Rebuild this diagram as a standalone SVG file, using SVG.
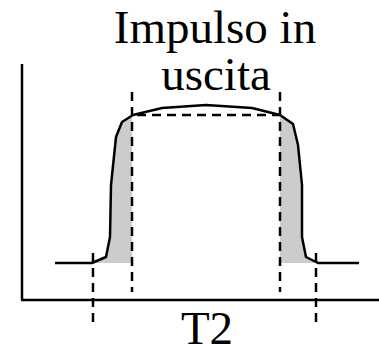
<svg xmlns="http://www.w3.org/2000/svg" width="379" height="345" viewBox="0 0 379 345">
<style>
.ax{stroke:#000;stroke-width:2.5;fill:none}
.curve{stroke:#000;stroke-width:2.5;fill:none;stroke-linejoin:round}
.dash{stroke:#000;stroke-width:2.5;fill:none;stroke-dasharray:9,6}
.fill{fill:#cccccc;stroke:none}
.lbl{font-family:"Liberation Serif","Times New Roman",serif;font-size:47px;fill:#000;text-anchor:middle}
</style>
<rect width="379" height="345" fill="#fff"/>
<g id="fills">
<path class="fill" d="M132,117 L122,122 L116,137 L111,185 L110,237 L106,257 L94,263 L132,263 Z"/>
<path class="fill" d="M280,115 L293,124 L298,145 L302,185 L302,237 L306,257 L318,263 L280,263 Z"/>
</g>
<g id="axes">
<line class="ax" x1="22" y1="64" x2="22" y2="300"/>
<line class="ax" x1="21" y1="300" x2="379" y2="300"/>
</g>
<g id="pulse">
<path class="curve" d="M55,263 L92,263 L106,257 L110,237 L111,185 L116,137 L122,122 L133,115 L162,108 L206,105 L252,108 L280,115 L293,124 L298,145 L302,185 L302,237 L306,257 L318,263 L359,263"/>
</g>
<g id="connectors">
<line class="dash" x1="93" y1="253" x2="93" y2="327"/>
<line class="dash" x1="132" y1="92" x2="132" y2="292"/>
<line class="dash" x1="280" y1="92" x2="280" y2="292"/>
<line class="dash" x1="316" y1="253" x2="316" y2="327"/>
<line class="dash" x1="137" y1="115" x2="280" y2="115"/>
</g>
<g id="labels">
<text class="lbl" x="215" y="43">Impulso in</text>
<text class="lbl" x="216" y="90">uscita</text>
<text class="lbl" x="207" y="344">T2</text>
</g>
</svg>
